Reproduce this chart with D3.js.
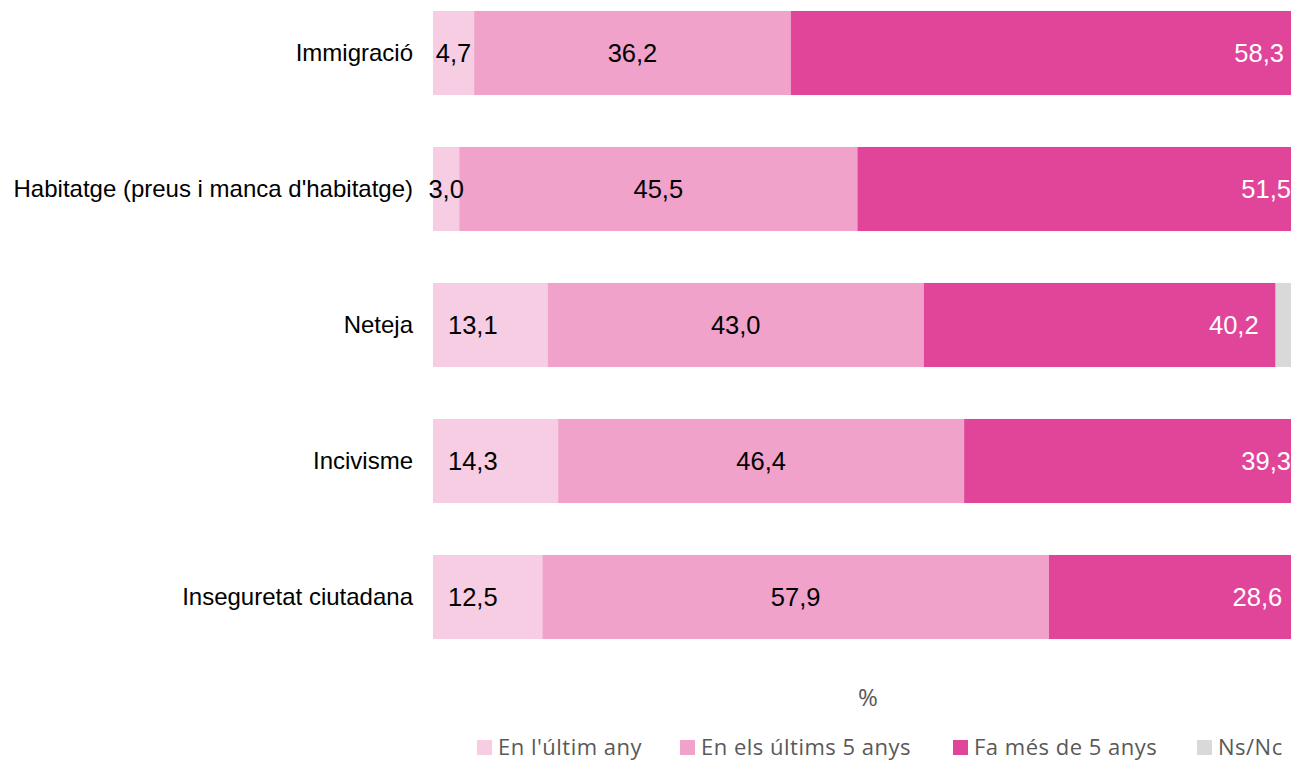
<!DOCTYPE html>
<html>
<head>
<meta charset="utf-8">
<script src="https://cdn.jsdelivr.net/npm/d3@7"></script>
<style>
  body { margin: 0; background: #fff; }
  svg { display: block; }
</style>
</head>
<body>
<div id="chart"></div>
<script>
// data
var categories = ["Immigració", "Habitatge (preus i manca d'habitatge)", "Neteja", "Incivisme", "Inseguretat ciutadana"]
var series = ["En l'últim any", "En els últims 5 anys", "Fa més de 5 anys", "Ns/Nc"]
var ultimAny = [4.7, 3.0, 13.1, 14.3, 12.5]
var ultims5 = [36.2, 45.5, 43.0, 46.4, 57.9]
var mesDe5 = [58.3, 51.5, 40.2, 39.3, 28.6]
var nsnc = [0.8, 0.0, 3.7, 0.0, 1.0]
var colors = ["#f6cde3", "#f0a2ca", "#e0459a", "#d9d9d9"]

var width = 1291
var height = 762

var svg = d3.select("#chart")
    .append("svg")
    .attr("width", width)
    .attr("height", height)

// x runs a little past the right edge, the original is cropped there
var x = d3.scaleLinear().domain([0, 100]).range([433, 1308])
var y = d3.scaleBand().domain(categories).range([-15, 665])
    .paddingInner(0.382).paddingOuter(0.191)

var rows = categories.map(function (c, i) {
    return { cat: c, s0: ultimAny[i], s1: ultims5[i], s2: mesDe5[i], s3: nsnc[i] }
})
var stacked = d3.stack().keys(["s0", "s1", "s2", "s3"])(rows)

var layers = svg.selectAll("g.layer")
    .data(stacked)
    .enter()
    .append("g")
    .attr("class", "layer")
    .attr("fill", function (d, i) { return colors[i] })

layers.selectAll("rect")
    .data(function (d) { return d })
    .enter()
    .append("rect")
    .attr("x", function (d) { return x(d[0]) })
    .attr("y", function (d) { return y(d.data.cat) })
    .attr("width", function (d) { return x(d[1]) - x(d[0]) })
    .attr("height", y.bandwidth())

// category labels
svg.selectAll("text.cat")
    .data(categories)
    .enter()
    .append("text")
    .attr("class", "cat")
    .attr("x", 413)
    .attr("y", function (d) { return y(d) + y.bandwidth() / 2 })
    .attr("dy", "0.35em")
    .attr("text-anchor", "end")
    .style("font-family", "'Liberation Sans', Arial, sans-serif")
    .style("font-size", "24px")
    .style("fill", "#000")
    .text(function (d) { return d })

var fmt = function (v) { return v.toFixed(1).replace(".", ",") }

// value labels, three visible series only
stacked.slice(0, 3).forEach(function (layer, k) {
    svg.selectAll("text.v" + k)
        .data(layer)
        .enter()
        .append("text")
        .attr("class", "v" + k)
        .attr("y", function (d) { return y(d.data.cat) + y.bandwidth() / 2 })
        .attr("dy", "0.35em")
        .style("font-family", "'Liberation Sans', Arial, sans-serif")
        .style("font-size", "25.5px")
        .style("fill", k == 2 ? "#fff" : "#000")
        .text(function (d) { return fmt(d[1] - d[0]) })
        .each(function (d) {
            var t = d3.select(this)
            var x0 = x(d[0]), x1 = x(d[1])
            var w = this.getComputedTextLength()
            if (k == 1) {
                t.attr("x", (x0 + x1) / 2).attr("text-anchor", "middle")
            } else if (k == 2) {
                t.attr("x", x1 - 17).attr("text-anchor", "end")
            } else if (x1 - x0 > w + 30) {
                t.attr("x", x0 + 15).attr("text-anchor", "start")
            } else {
                t.attr("x", (x0 + x1) / 2).attr("text-anchor", "middle")
            }
        })
})

// axis title
svg.append("text")
    .attr("x", 868)
    .attr("y", 698)
    .attr("dy", "0.35em")
    .attr("text-anchor", "middle")
    .style("font-family", "'Open Sans', sans-serif")
    .style("font-size", "24px")
    .style("fill", "#595959")
    .text("%")

// legend
var legendX = [477, 680, 953, 1197]
var legend = svg.selectAll("g.legend")
    .data(series)
    .enter()
    .append("g")
    .attr("class", "legend")
    .attr("transform", function (d, i) { return "translate(" + legendX[i] + ",740)" })

legend.append("rect")
    .attr("width", 15)
    .attr("height", 15)
    .attr("fill", function (d, i) { return colors[i] })

legend.append("text")
    .attr("x", 21)
    .attr("y", 15)
    .style("font-family", "'Open Sans', sans-serif")
    .style("font-size", "22px")
    .style("letter-spacing", "0.5px")
    .style("fill", "#595959")
    .text(function (d) { return d })
</script>
</body>
</html>
